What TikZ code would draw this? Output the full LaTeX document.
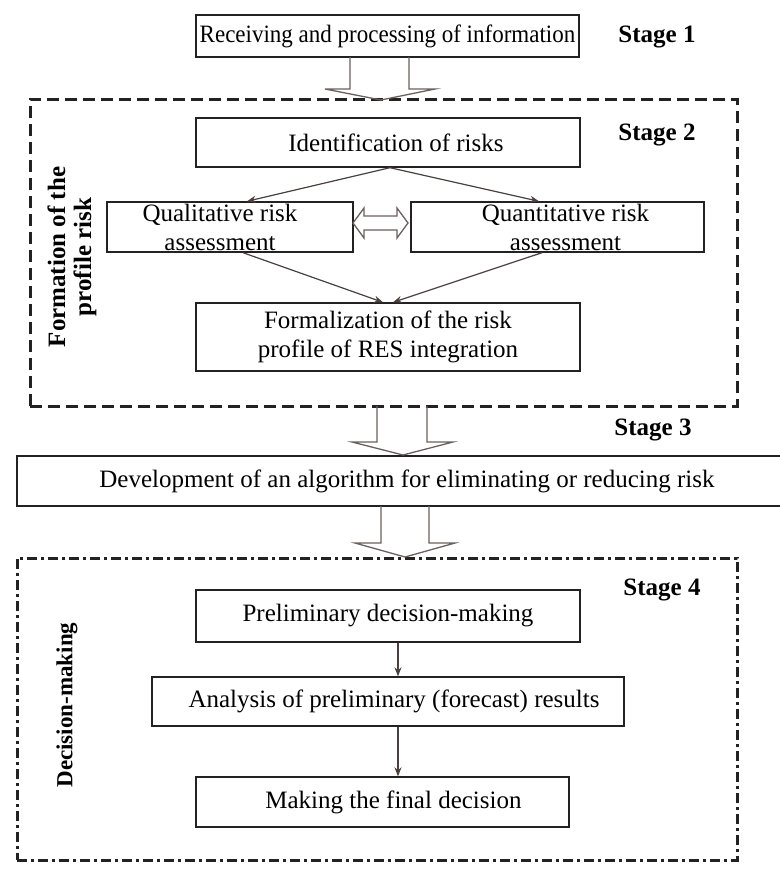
\documentclass[tikz,border=0pt]{standalone}
\usepackage{fontspec}
\usepackage{graphicx}
\setmainfont{Liberation Serif}
\usetikzlibrary{calc,arrows.meta}
\definecolor{conncol}{HTML}{4A403E}
\definecolor{boxcol}{HTML}{222222}
\definecolor{hollowcol}{HTML}{6B605E}
\tikzset{
  boxnode/.style={draw=boxcol, line width=1.4pt, rectangle, inner sep=0pt, align=center, font=\fontsize{25}{29}\selectfont},
  stagelbl/.style={font=\fontsize{25}{29}\selectfont\bfseries, inner sep=0pt},
  sidelbl/.style={font=\fontsize{25}{26}\selectfont\bfseries, inner sep=0pt, rotate=90, align=center},
  conn/.style={draw=conncol, line width=1.2pt, -{Stealth[length=9pt,width=7pt]}},
  hollow/.style={draw=hollowcol, line width=1.3pt, line join=miter},
  dashframe/.style={draw=boxcol, line width=3pt, dash pattern=on 12pt off 6pt, rectangle, inner sep=0pt},
  dotframe/.style={draw=boxcol, line width=3pt, dash pattern=on 10pt off 4pt on 3pt off 4pt, rectangle, inner sep=0pt}
}
\begin{document}
\begin{tikzpicture}[x=1pt,y=-1pt]
\useasboundingbox (0,0) rectangle (779,870);
\fill[white] (0,0) rectangle (779,870);

% frames
\node[dashframe, minimum width=707pt, minimum height=307pt] (frame1) at (383.5,252.5) {};
\node[dotframe, minimum width=720pt, minimum height=302pt] (frame2) at (377,709) {};

% boxes
\node[boxnode, minimum width=383pt, minimum height=42pt] (recv) at (387.5,36) {\scalebox{0.92}[1]{Receiving and processing of information}};
\node[boxnode, minimum width=384pt, minimum height=49pt] (ident) at (388,142.5) {\hspace*{16pt}Identification of risks};
\node[boxnode, minimum width=246pt, minimum height=50pt] (qual) at (230,227) {Qualitative risk\hspace*{20pt}\\assessment\hspace*{20pt}};
\node[boxnode, minimum width=293pt, minimum height=50pt] (quant) at (557.5,227) {\hspace*{16pt}Quantitative risk\\\hspace*{16pt}assessment};
\node[boxnode, minimum width=384pt, minimum height=68pt] (form) at (388,337) {Formalization of the risk\\profile of RES integration};
\node[boxnode, minimum width=780pt, minimum height=50pt] (dev) at (407,481) {Development of an algorithm for eliminating or reducing risk};
\node[boxnode, minimum width=384pt, minimum height=52pt] (prelim) at (388,616) {Preliminary decision-making};
\node[boxnode, minimum width=472pt, minimum height=49pt] (anal) at (388,701.5) {\hspace*{12pt}Analysis of preliminary (forecast) results};
\node[boxnode, minimum width=373pt, minimum height=50pt] (final) at (382.5,802) {\hspace*{22pt}Making the final decision};

% stage labels
\node[stagelbl] (s1) at (657,37) {Stage 1};
\node[stagelbl] (s2) at (657,135) {Stage 2};
\node[stagelbl] (s3) at (653,430) {Stage 3};
\node[stagelbl] (s4) at (662,590) {Stage 4};

% side labels
\node[sidelbl] (lbl1) at (72,257) {Formation of the\\profile risk};
\node[sidelbl, font=\fontsize{23}{26}\selectfont\bfseries] (lbl2) at (67,705) {Decision-making};

% connectors
\draw[conn] ($(ident.south)+(2,0)$) -- ($(qual.north)+(17,0)$);
\draw[conn] ($(ident.south)+(2,0)$) -- ($(quant.north)+(-18.5,0)$);
\draw[conn] ($(qual.south)+(13,0)$) -- ($(form.north)+(-5,0)$);
\draw[conn] ($(quant.south)+(-15.5,0)$) -- ($(form.north)+(5,0)$);
\draw[conn] ($(prelim.south)+(10,0)$) -- ($(anal.north)+(10,0)$);
\draw[conn] ($(anal.south)+(10,0)$) -- ($(final.north)+(15.5,0)$);

% hollow block arrows
\draw[hollow] (350,57) -- (350,89) -- (325,89) -- (381,100) -- (435,89) -- (409,89) -- (409,57);
\draw[hollow] (377,406) -- (377,442) -- (352,442) -- (403,455) -- (453,442) -- (427,442) -- (427,406);
\draw[hollow] (381,506) -- (381,543) -- (355,543) -- (405,557) -- (455,543) -- (429,543) -- (429,506);
\draw[hollow] (353,223) -- (364,208) -- (364,216) -- (397,216) -- (397,208) -- (408,223) -- (397,238) -- (397,230) -- (364,230) -- (364,238) -- cycle;
\end{tikzpicture}
\end{document}
